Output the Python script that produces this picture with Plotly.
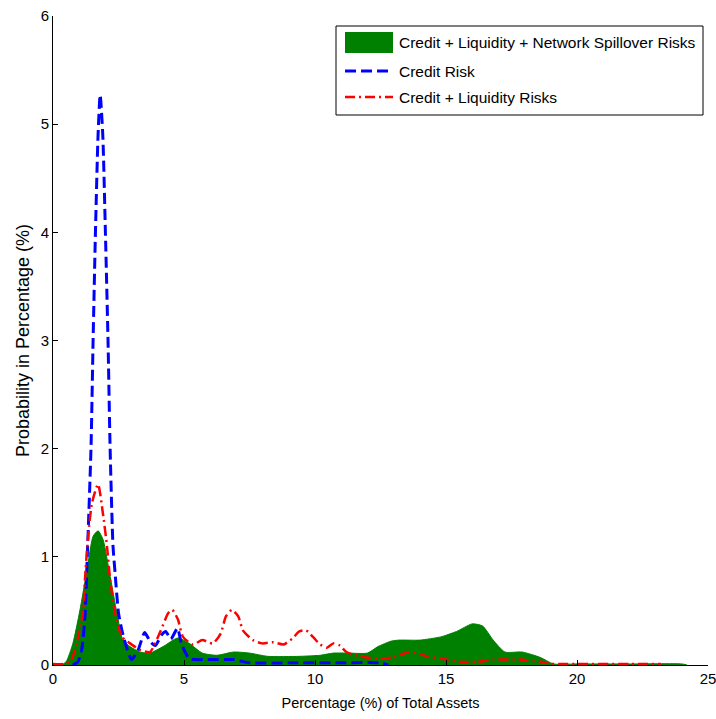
import plotly.graph_objects as go

# ---- data ----
net_x = [0, 0.3, 0.5, 0.76, 1.03, 1.3, 1.53, 1.72, 1.91, 2.18, 2.44, 2.67, 2.94, 3.32, 3.7,
         4.2, 4.77, 5.2, 5.7, 6.25, 6.9, 7.5, 8.2, 9.4, 10.2, 10.7, 11.3, 12.0, 12.4, 12.9,
         13.2, 14.0, 14.8, 15.4, 16.0, 16.4, 16.8, 17.25, 17.9, 18.6, 19.1, 20, 22, 24, 24.2]
net_y = [0, 0, 0.03, 0.2, 0.51, 0.88, 1.19, 1.24, 1.16, 0.82, 0.48, 0.23, 0.17, 0.12, 0.11,
         0.17, 0.25, 0.2, 0.11, 0.09, 0.12, 0.11, 0.08, 0.08, 0.09, 0.11, 0.11, 0.11, 0.17, 0.22,
         0.23, 0.23, 0.26, 0.31, 0.38, 0.36, 0.23, 0.12, 0.12, 0.07, 0.01, 0.01, 0.01, 0.01, 0]

credit_x = [0.75, 0.95, 1.1, 1.22, 1.3, 1.45, 1.53, 1.62, 1.72, 1.8, 1.9, 2.0, 2.1, 2.18,
            2.29, 2.37, 2.5, 2.63, 2.8, 3.0, 3.25, 3.5, 3.7, 3.9, 4.15, 4.3, 4.5, 4.75, 4.9,
            5.2, 5.9, 6.9, 7.5, 9.0, 11.0, 12.5, 12.8]
credit_y = [0, 0.03, 0.15, 0.45, 0.95, 2.0, 3.0, 4.0, 4.9, 5.27, 4.9, 4.0, 3.0, 2.0,
            1.1, 0.85, 0.48, 0.32, 0.17, 0.05, 0.14, 0.3, 0.22, 0.18, 0.28, 0.31, 0.24, 0.34,
            0.2, 0.06, 0.05, 0.05, 0.02, 0.02, 0.02, 0.02, 0]

liq_x = [0, 0.4, 0.7, 0.95, 1.15, 1.22, 1.34, 1.49, 1.72, 1.9, 2.06, 2.18, 2.37, 2.63, 2.94,
         3.32, 3.7, 4.08, 4.4, 4.55, 4.77, 4.96, 5.34, 5.7, 6.1, 6.4, 6.6, 6.83, 7.07, 7.25,
         7.63, 7.98, 8.4, 8.8, 9.16, 9.4, 9.66, 9.92, 10.2, 10.45, 10.7, 10.95, 11.2, 11.7,
         12.4, 13.0, 13.6, 14.3, 15.0, 15.5, 16.2, 16.8, 17.8, 18.6, 19.1, 20, 22, 23.2]
liq_y = [0.01, 0.01, 0.05, 0.25, 0.5, 0.79, 1.19, 1.5, 1.67, 1.41, 1.1, 0.79, 0.48, 0.26, 0.2,
         0.14, 0.12, 0.3, 0.48, 0.51, 0.42, 0.26, 0.19, 0.23, 0.2, 0.29, 0.45, 0.51, 0.45, 0.32,
         0.23, 0.2, 0.21, 0.19, 0.25, 0.31, 0.32, 0.26, 0.19, 0.16, 0.2, 0.18, 0.12, 0.08,
         0.06, 0.07, 0.12, 0.08, 0.05, 0.03, 0.03, 0.05, 0.05, 0.03, 0.01, 0.01, 0.01, 0.01]

legend_labels = ["Credit + Liquidity + Network Spillover Risks", "Credit Risk",
                 "Credit + Liquidity Risks"]
x_ticks = [0, 5, 10, 15, 20, 25]
y_ticks = [0, 1, 2, 3, 4, 5, 6]

# ---- layout geometry ----
W, H = 716, 719
ML, MR, MT, MB = 53, 8, 16, 54
PW, PH = W - ML - MR, H - MT - MB


def px(x):
    return (x - ML) / PW


def py(y):
    return (H - MB - y) / PH


GREEN, BLUE, RED = "#008000", "#0000FF", "#FF0000"
FONT = "Liberation Sans, Arial, sans-serif"

fig = go.Figure()
fig.add_trace(go.Scatter(x=net_x, y=net_y, mode="lines", fill="tozeroy",
                         line=dict(color=GREEN, width=1, shape="spline", smoothing=0.6),
                         fillcolor=GREEN, name=legend_labels[0], showlegend=False))
fig.add_trace(go.Scatter(x=credit_x, y=credit_y, mode="lines",
                         line=dict(color=BLUE, width=3, dash="11px,5px", shape="spline",
                                   smoothing=0.6),
                         name=legend_labels[1], showlegend=False))
fig.add_trace(go.Scatter(x=liq_x, y=liq_y, mode="lines",
                         line=dict(color=RED, width=2.5, dash="10px,4px,2px,4px",
                                   shape="spline", smoothing=0.6),
                         name=legend_labels[2], showlegend=False))

# manual legend (MATLAB style)
shapes = [
    dict(type="rect", xref="paper", yref="paper", x0=px(336), x1=px(703), y0=py(115),
         y1=py(26), line=dict(color="black", width=1), fillcolor="white", layer="above"),
    dict(type="rect", xref="paper", yref="paper", x0=px(345), x1=px(393), y0=py(53),
         y1=py(32), line=dict(width=0), fillcolor=GREEN),
    dict(type="line", xref="paper", yref="paper", x0=px(345), x1=px(393), y0=py(71),
         y1=py(71), line=dict(color=BLUE, width=3, dash="11px,5px")),
    dict(type="line", xref="paper", yref="paper", x0=px(345), x1=px(393), y0=py(97),
         y1=py(97), line=dict(color=RED, width=2.5, dash="10px,4px,2px,4px")),
]
annotations = []
for label, yc in zip(legend_labels, [43, 71, 98]):
    annotations.append(dict(text=label, xref="paper", yref="paper", x=px(397), y=py(yc),
                            xanchor="left", yanchor="middle", showarrow=False,
                            font=dict(family=FONT, size=15.5, color="black")))

fig.update_layout(
    width=W, height=H,
    margin=dict(l=ML, r=MR, t=MT, b=MB, autoexpand=False),
    paper_bgcolor="white", plot_bgcolor="white",
    showlegend=False,
    shapes=shapes, annotations=annotations,
    font=dict(family=FONT, size=15, color="black"),
)
fig.update_xaxes(range=[0, 25], tickvals=x_ticks, ticktext=[str(v) for v in x_ticks],
                 ticks="inside", ticklen=5, tickcolor="black", showline=True,
                 linecolor="black", linewidth=1, showgrid=False, zeroline=False,
                 tickfont=dict(size=15), automargin=False, ticklabeloverflow="allow",
                 title=dict(text="Percentage (%) of Total Assets",
                            font=dict(size=14.5), standoff=11))
fig.update_yaxes(range=[0, 6], tickvals=y_ticks, ticktext=[str(v) for v in y_ticks],
                 ticks="inside", ticklen=5, tickcolor="black", showline=True,
                 linecolor="black", linewidth=1, showgrid=False, zeroline=False,
                 tickfont=dict(size=15), automargin=False, ticklabeloverflow="allow",
                 title=dict(text="Probability in Percentage (%)",
                            font=dict(size=18), standoff=6))

fig.write_html("out.html")
